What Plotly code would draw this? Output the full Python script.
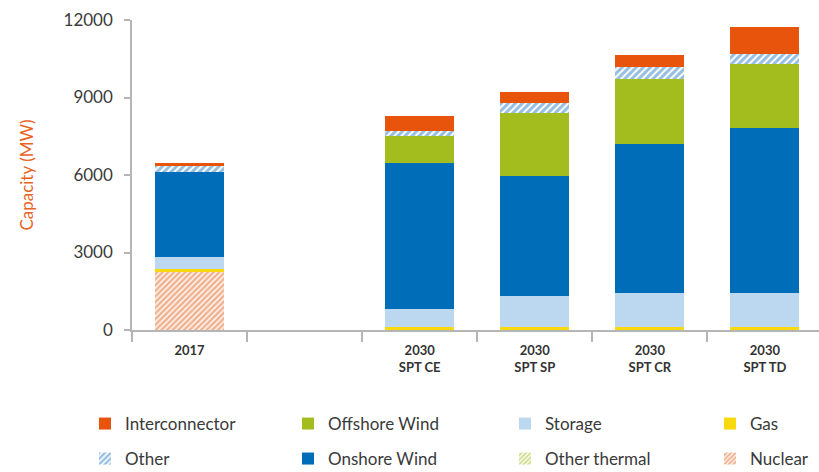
import plotly.graph_objects as go

categories = ["2017", " ", "2030<br>SPT CE", "2030<br>SPT SP", "2030<br>SPT CR", "2030<br>SPT TD"]

nuclear        = [2230, None, 0, 0, 0, 0]
gas            = [120, None, 130, 130, 130, 130]
storage        = [460, None, 670, 1170, 1290, 1290]
onshore_wind   = [3320, None, 5650, 4650, 5780, 6410]
offshore_wind  = [0, None, 1050, 2450, 2500, 2455]
other_thermal  = [0, None, 0, 0, 0, 0]
other          = [220, None, 200, 400, 480, 390]
interconnector = [100, None, 600, 420, 480, 1045]

y_ticks = [0, 3000, 6000, 9000, 12000]

FONT = "Lato"
TXT = "#3a3a3a"

# legend grid: columns (symbol left x in px) and rows (centre y in px)
col_x = [85, 288, 505, 710]
row_y = [424, 459]

series = [
    # name, values, color, pattern, (col, row)
    ("Nuclear", nuclear, "#ffffff", dict(shape="/", fgcolor="#E2631F", bgcolor="#ffffff", size=4, solidity=0.65), (3, 1)),
    ("Gas", gas, "#F8D80F", None, (3, 0)),
    ("Storage", storage, "#BCD8F0", None, (2, 0)),
    ("Onshore Wind", onshore_wind, "#006DB8", None, (1, 1)),
    ("Offshore Wind", offshore_wind, "#A4BD1E", None, (1, 0)),
    ("Other thermal", other_thermal, "#ffffff", dict(shape="/", fgcolor="#A4BD1E", bgcolor="#ffffff", size=4, solidity=0.6), (2, 1)),
    ("Other", other, "#ffffff", dict(shape="/", fgcolor="#2B7EC3", bgcolor="#ffffff", size=5, solidity=0.6), (0, 1)),
    ("Interconnector", interconnector, "#E9540D", None, (0, 0)),
]

fig = go.Figure()
legends = {}
for i, (name, vals, color, pattern, (c, r)) in enumerate(series):
    marker = dict(color=color, line=dict(width=0))
    if pattern:
        marker["pattern"] = pattern
    leg = f"legend{i+2}"
    fig.add_trace(go.Bar(
        x=categories, y=vals, name=name, marker=marker,
        legend=leg, width=0.6,
    ))
    legends[leg] = dict(
        orientation="h", xref="container", yref="container",
        x=col_x[c] / 819, y=1 - row_y[r] / 472,
        xanchor="left", yanchor="middle",
        font=dict(family=FONT, size=17, color=TXT), itemwidth=30,
        bgcolor="rgba(0,0,0,0)",
    )

fig.update_layout(
    width=819, height=472,
    margin=dict(l=132, r=0, t=20, b=142),
    barmode="stack",
    plot_bgcolor="white", paper_bgcolor="white",
    font=dict(family=FONT, color=TXT),
    showlegend=True,
    **legends,
)

fig.update_xaxes(
    type="category", categoryorder="array", categoryarray=categories,
    range=[-0.5, 5.47],
    showline=True, linecolor="#b5b5b5", linewidth=1.5,
    ticks="outside", tickson="boundaries", ticklen=10, tickcolor="#b5b5b5", tickwidth=1.5,
    tickfont=dict(family=FONT, size=13, color="#333333", weight="bold"),
    ticklabelstandoff=8,
    showgrid=False, zeroline=False,
)

fig.update_yaxes(
    range=[0, 12000], tickvals=y_ticks, ticktext=[str(v) for v in y_ticks],
    showline=True, linecolor="#b5b5b5", linewidth=1.5,
    ticks="outside", ticklen=6, tickcolor="#b5b5b5", tickwidth=1.5,
    tickfont=dict(family=FONT, size=17, color=TXT),
    ticklabelstandoff=8,
    showgrid=False, zeroline=False,
    title=dict(text="Capacity (MW)", font=dict(family=FONT, size=17, color="#E8641E"), standoff=26),
)

fig.write_html("out.html")
